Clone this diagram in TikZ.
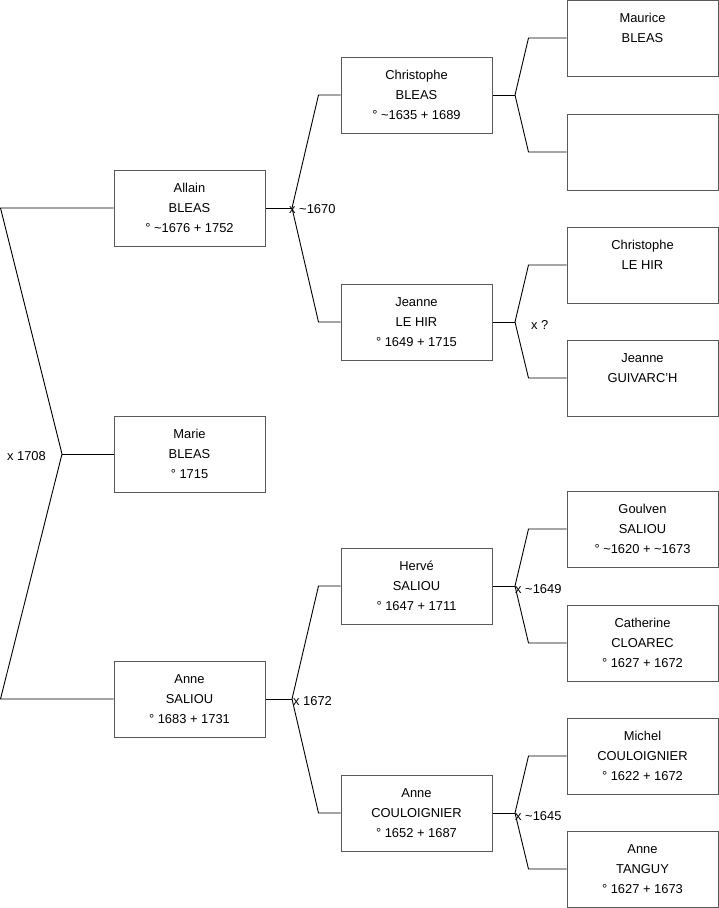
\documentclass[tikz,border=0pt]{standalone}
\usepackage{fontspec}
\setmainfont{Liberation Sans}
\usetikzlibrary{positioning}

\begin{document}
\begin{tikzpicture}[
  x=1pt, y=-1pt,
  person/.style={rectangle, draw=black!65, line width=1pt, fill=white,
    minimum width=151pt, minimum height=76pt, inner sep=0pt,
    align=center, font=\fontsize{12.9}{20}\selectfont},
  link/.style={draw=black, line width=0.9pt},
  wed/.style={font=\fontsize{12.9}{14}\selectfont, inner sep=1pt}
]
\useasboundingbox (0,0) rectangle (719,908);

% Generation 1
\node[person] (marie) at (189.5,454) {Marie\\BLEAS\\° 1715};

% Generation 2
\node[person] (allain) at (189.5,208) {Allain\\BLEAS\\° \textasciitilde1676 + 1752};
\node[person] (anneS) at (189.5,699) {Anne\\SALIOU\\° 1683 + 1731};

% Generation 3
\node[person] (christophe) at (416.5,95)  {Christophe\\BLEAS\\° \textasciitilde1635 + 1689};
\node[person] (jeanne)     at (416.5,322) {Jeanne\\LE HIR\\° 1649 + 1715};
\node[person] (herve)      at (416.5,586) {Hervé\\SALIOU\\° 1647 + 1711};
\node[person] (anneC)      at (416.5,813) {Anne\\COULOIGNIER\\° 1652 + 1687};

% Generation 4
\node[person] (maurice)     at (642.5,38)  {Maurice\\BLEAS\\\mbox{}};
\node[person] (unknown)     at (642.5,152) {};
\node[person] (christopheL) at (642.5,265) {Christophe\\LE HIR\\\mbox{}};
\node[person] (jeanneG)     at (642.5,378) {Jeanne\\GUIVARC'H\\\mbox{}};
\node[person] (goulven)     at (642.5,529) {Goulven\\SALIOU\\° \textasciitilde1620 + \textasciitilde1673};
\node[person] (catherine)   at (642.5,643) {Catherine\\CLOAREC\\° 1627 + 1672};
\node[person] (michel)      at (642.5,756) {Michel\\COULOIGNIER\\° 1622 + 1672};
\node[person] (anneT)       at (642.5,869) {Anne\\TANGUY\\° 1627 + 1673};

% Marriage forks
\coordinate (w0) at (62,454);
\coordinate (w1) at (292,208);
\coordinate (w2) at (292,699);
\coordinate (w3) at (515,95);
\coordinate (w4) at (515,322);
\coordinate (w5) at (515,586);
\coordinate (w6) at (515,813);

% Links
\draw[link] (allain.west) -- ([xshift=-113pt]allain.west) -- (w0)
  -- ([xshift=-113pt]anneS.west) -- (anneS.west);
\draw[link] (w0) -- (marie.west);

\draw[link] (allain.east) -- (w1);
\draw[link] (christophe.west) -- ([xshift=-22pt]christophe.west) -- (w1)
  -- ([xshift=-22pt]jeanne.west) -- (jeanne.west);
\draw[link] (anneS.east) -- (w2);
\draw[link] (herve.west) -- ([xshift=-22pt]herve.west) -- (w2)
  -- ([xshift=-22pt]anneC.west) -- (anneC.west);

\draw[link] (christophe.east) -- (w3);
\draw[link] (maurice.west) -- ([xshift=-38pt]maurice.west) -- (w3)
  -- ([xshift=-38pt]unknown.west) -- (unknown.west);
\draw[link] (jeanne.east) -- (w4);
\draw[link] (christopheL.west) -- ([xshift=-38pt]christopheL.west) -- (w4)
  -- ([xshift=-38pt]jeanneG.west) -- (jeanneG.west);
\draw[link] (herve.east) -- (w5);
\draw[link] (goulven.west) -- ([xshift=-38pt]goulven.west) -- (w5)
  -- ([xshift=-38pt]catherine.west) -- (catherine.west);
\draw[link] (anneC.east) -- (w6);
\draw[link] (michel.west) -- ([xshift=-38pt]michel.west) -- (w6)
  -- ([xshift=-38pt]anneT.west) -- (anneT.west);

% Marriage dates
\node[wed, anchor=east] (m0) at ([xshift=-15pt,yshift=-2pt]w0) {x 1708};
\node[wed, anchor=west] (m1) at ([xshift=-4pt,yshift=-1pt]w1) {x \textasciitilde1670};
\node[wed, anchor=west] (m2) at ([xshift=0pt,yshift=-2pt]w2) {x 1672};
\node[wed, anchor=west] (m4) at ([xshift=15pt,yshift=-3pt]w4) {x ?};
\node[wed, anchor=west] (m5) at ([xshift=-1pt,yshift=-3pt]w5) {x \textasciitilde1649};
\node[wed, anchor=west] (m6) at ([xshift=-1pt,yshift=-3pt]w6) {x \textasciitilde1645};
\end{tikzpicture}
\end{document}
